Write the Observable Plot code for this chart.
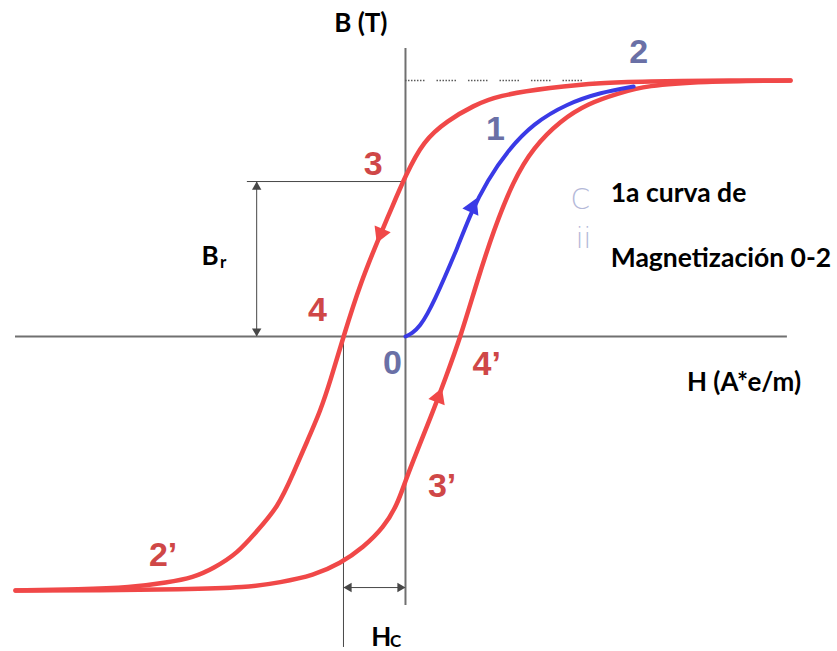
<!DOCTYPE html>
<html>
<head>
<meta charset="utf-8">
<script src="https://cdn.jsdelivr.net/npm/d3@7"></script>
<script src="https://cdn.jsdelivr.net/npm/@observablehq/plot@0.6"></script>
<style>
  html, body { margin: 0; padding: 0; background: #ffffff; }
  #chart svg { display: block; }
</style>
</head>
<body>
<div id="chart"></div>
<script>
// ---- Data: hysteresis loop, H in A*e/m, B in T ----
// descending branch 2 -> 3 -> 4 -> 2'
const upperH = [621, 476, 395, 315, 234, 148, 110, 68, 29, 0, -24, -40, -73, -100, -121, -137, -158, -181, -206, -239, -271, -310, -342, -384, -444, -524, -629];
const upperB = [1.500, 1.500, 1.494, 1.488, 1.459, 1.412, 1.353, 1.266, 1.148, 0.943, 0.738, 0.603, 0.311, 0, -0.258, -0.434, -0.609, -0.803, -1.002, -1.137, -1.271, -1.359, -1.412, -1.441, -1.471, -1.482, -1.488];
// ascending branch 2' -> 3' -> 4' -> 2
const lowerH = [-629, -492, -363, -255, -202, -148, -105, -68, -35, -13, 0, 19, 40, 65, 89, 116, 142, 174, 206, 250, 294, 342, 390, 476, 621];
const lowerB = [-1.488, -1.488, -1.482, -1.471, -1.441, -1.400, -1.330, -1.236, -1.119, -0.984, -0.844, -0.668, -0.480, -0.240, 0, 0.328, 0.621, 0.914, 1.107, 1.266, 1.365, 1.424, 1.471, 1.494, 1.500];
// first magnetization curve 0 -> 2
const virginH = [0, 11, 24, 35, 48, 61, 84, 105, 132, 165, 206, 261, 315, 368];
const virginB = [0, 0.018, 0.064, 0.129, 0.223, 0.328, 0.521, 0.721, 0.914, 1.090, 1.248, 1.365, 1.430, 1.465];

// direction arrows on the curves
const arrowH = [-40, 108, 53];
const arrowB = [0.603, 0.756, -0.357];
const arrowAngle = [203, 24, 21];
const arrowCurve = ["red", "blue", "red"];

// key values
const Bsat = 1.5;
const Br = 0.908;
const Hc = -100;

// point labels
const pointText = ["2", "1", "3", "4", "0", "4\u2019", "3\u2019", "2\u2019"];
const pointH = [376, 145, -52, -142, -21, 131, 59, -391];
const pointB = [1.667, 1.216, 1.011, 0.152, -0.155, -0.161, -0.879, -1.283];
const pointKind = ["blue", "blue", "red", "red", "blue", "red", "red", "red"];

// text annotations (centred)
const titleText = ["B (T)", "H (A*e/m)", "B", "H"];
const titleH = [-72, 546, -315, -39];
const titleB = [1.834, -0.270, 0.469, -1.764];
// text annotations (left aligned)
const legendText = ["1a curva de", "Magnetizaci\u00f3n 0-2"];
const legendH = [331, 331];
const legendB = [0.835, 0.457];
// subscripts
const subText = ["r", "C"];
const subH = [-294, -16];
const subB = [0.434, -1.787];

// faint leftover glyphs
const ghostText = ["C", "ii"];
const ghostH = [282, 287];
const ghostB = [0.797, 0.574];

// ---- Build tables ----
const byH = (a) => d3.sort(a, d => d.H);
const upper = byH(upperH.map((h, i) => ({H: h, B: upperB[i]})));
const lower = byH(lowerH.map((h, i) => ({H: h, B: lowerB[i]})));
const virgin = byH(virginH.map((h, i) => ({H: h, B: virginB[i]})));
const arrows = arrowH.map((h, i) => ({H: h, B: arrowB[i], a: arrowAngle[i], c: arrowCurve[i]}));
const points = pointText.map((t, i) => ({t, H: pointH[i], B: pointB[i], k: pointKind[i]}));
const titles = titleText.map((t, i) => ({t, H: titleH[i], B: titleB[i]}));
const legend = legendText.map((t, i) => ({t, H: legendH[i], B: legendB[i]}));
const subs = subText.map((t, i) => ({t, H: subH[i], B: subB[i]}));
const ghosts = ghostText.map((t, i) => ({t, H: ghostH[i], B: ghostB[i]}));

const RED = "#f04848";
const BLUE = "#3a3ae6";
const RED_LABEL = "#cf4747";
const BLUE_LABEL = "#6a70a6";
const AXIS = "#707070";
const DIM = "#474747";
const FONT = "Lato, 'Open Sans', sans-serif";

const chart = Plot.plot({
  width: 837,
  height: 651,
  margin: 0,
  x: {domain: [-653.2, 696.8], range: [0, 837], axis: null},
  y: {domain: [-1.8457, 1.96875], range: [651, 0], axis: null},
  style: {background: "#ffffff", overflow: "visible"},
  marks: [
    // axes
    Plot.ruleY([0], {x1: -629, x2: 616, stroke: AXIS, strokeWidth: 2}),
    Plot.ruleX([0], {y1: -1.576, y2: 1.687, stroke: AXIS, strokeWidth: 2}),
    // saturation dotted line
    Plot.ruleY([Bsat], {x1: 0, x2: 305, stroke: "#5a5a5a", strokeWidth: 1.6,
      strokeDasharray: "1.5,1.5,1.5,1.5,1.5,1.5,1.5,1.5,1.5,1.5,1.5,1.5,1.5,12"}),
    // remanence dimension
    Plot.ruleY([Br], {x1: -255, x2: 0, stroke: DIM, strokeWidth: 1}),
    Plot.ruleX([-240], {y1: 0, y2: Br, stroke: DIM, strokeWidth: 1}),
    Plot.dot([{H: -240, B: Br}], {x: "H", y: "B", symbol: "triangle", r: 3.5, fill: DIM, stroke: null, dy: 5.4}),
    Plot.dot([{H: -240, B: 0}], {x: "H", y: "B", symbol: "triangle", r: 3.5, fill: DIM, stroke: null, rotate: 180, dy: -5.4}),
    // coercivity dimension
    Plot.ruleX([Hc], {y1: -1.822, y2: 0, stroke: DIM, strokeWidth: 1}),
    Plot.ruleY([-1.471], {x1: Hc, x2: 0, stroke: DIM, strokeWidth: 1}),
    Plot.dot([{H: Hc, B: -1.471}], {x: "H", y: "B", symbol: "triangle", r: 3.5, fill: DIM, stroke: null, rotate: 270, dx: 5.4}),
    Plot.dot([{H: 0, B: -1.471}], {x: "H", y: "B", symbol: "triangle", r: 3.5, fill: DIM, stroke: null, rotate: 90, dx: -5.4}),
    // curves
    Plot.line(lower, {x: "H", y: "B", stroke: RED, strokeWidth: 4.5, curve: "basis"}),
    Plot.line(upper, {x: "H", y: "B", stroke: RED, strokeWidth: 4.5, curve: "basis"}),
    Plot.line(virgin, {x: "H", y: "B", stroke: BLUE, strokeWidth: 4, curve: "basis"}),
    // curve arrows
    Plot.dot(arrows, {x: "H", y: "B", symbol: "triangle", r: 6.5, rotate: "a",
      fill: d => d.c === "red" ? RED : BLUE, stroke: null}),
    // point labels
    Plot.text(points, {x: "H", y: "B", text: "t", fontSize: 34, fontWeight: "bold",
      fontFamily: "Liberation Sans, Arial, sans-serif",
      fill: d => d.k === "red" ? RED_LABEL : BLUE_LABEL}),
    // faint glyphs
    Plot.text(ghosts, {x: "H", y: "B", text: "t", fontSize: 28, fontFamily: "'DejaVu Sans', sans-serif",
      fill: "#b4b8d8", fontWeight: 200}),
    // annotations
    Plot.text(titles, {x: "H", y: "B", text: "t", textAnchor: "middle", fontSize: 26, fontWeight: "bold",
      fontFamily: FONT, fill: "#000000"}),
    Plot.text(legend, {x: "H", y: "B", text: "t", textAnchor: "start", fontSize: 26.5, fontWeight: "bold",
      fontFamily: FONT, fill: "#000000"}),
    Plot.text(subs, {x: "H", y: "B", text: "t", fontSize: 17, fontWeight: "bold",
      fontFamily: FONT, fill: "#000000"})
  ]
});
document.getElementById("chart").appendChild(chart);
</script>
</body>
</html>
